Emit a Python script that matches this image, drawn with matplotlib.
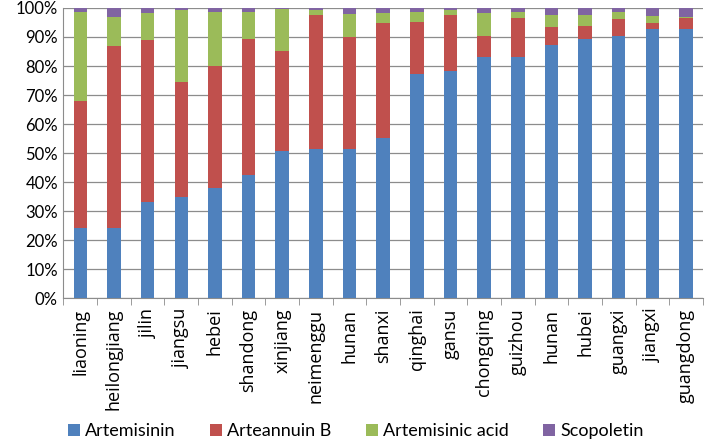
import matplotlib
matplotlib.use("Agg")
import matplotlib.pyplot as plt
from matplotlib.ticker import PercentFormatter
import numpy as np

plt.rcParams['font.family'] = ['Lato', 'DejaVu Sans']

# Provinces and the share (%) of each compound
provinces = ["liaoning", "heilongjiang", "jilin", "jiangsu", "hebei", "shandong",
             "xinjiang", "neimenggu", "hunan", "shanxi", "qinghai", "gansu",
             "chongqing", "guizhou", "hunan", "hubei", "guangxi", "jiangxi",
             "guangdong"]

artemisinin = [24.0, 24.2, 33.0, 35.0, 37.9, 42.3, 50.7, 51.4, 51.4, 55.3,
               77.2, 78.3, 83.0, 83.2, 87.4, 89.3, 90.5, 92.7, 92.9]
arteannuin_b = [44.0, 62.7, 55.9, 39.6, 42.0, 47.1, 34.4, 46.3, 38.7, 39.6,
                18.1, 19.2, 7.2, 13.5, 6.1, 4.6, 5.8, 2.2, 3.7]
artemisinic_acid = [30.7, 10.1, 9.5, 24.7, 18.8, 9.2, 14.4, 1.7, 7.8, 3.3,
                    3.3, 1.8, 8.0, 1.9, 4.0, 3.6, 2.3, 2.2, 0.4]
scopoletin = [1.3, 3.0, 1.6, 0.7, 1.3, 1.4, 0.5, 0.6, 2.1, 1.8,
              1.4, 0.7, 1.8, 1.4, 2.5, 2.5, 1.4, 2.9, 3.0]

series = [("Artemisinin", artemisinin, "#4F81BD"),
          ("Arteannuin B", arteannuin_b, "#C0504D"),
          ("Artemisinic acid", artemisinic_acid, "#9BBB59"),
          ("Scopoletin", scopoletin, "#8064A2")]

fig = plt.figure(figsize=(7.05, 4.43), dpi=100)
ax = fig.add_axes([0.09, 0.327, 0.907, 0.655])

x = np.arange(len(provinces))
bottom = np.zeros(len(provinces))
for name, vals, color in series:
    ax.bar(x, vals, 0.4, bottom=bottom, color=color, label=name, zorder=3)
    bottom += np.array(vals)

ax.set_ylim(0, 100)
ax.set_xlim(-0.5, len(provinces) - 0.5)
ax.set_yticks(np.arange(0, 101, 10))
ax.yaxis.set_major_formatter(PercentFormatter(decimals=0))
ax.grid(axis="y", color="#8c8c8c", linewidth=0.9, zorder=0)

ax.set_xticks(x)
ax.set_xticklabels(provinces, rotation=90, fontsize=13, family=['Open Sans', 'DejaVu Sans'])
ax.set_xticks(np.arange(-0.5, len(provinces), 1), minor=True)
ax.tick_params(axis="x", which="major", length=0, pad=7.5)
ax.tick_params(axis="x", which="minor", length=5, color="#8c8c8c")
ax.tick_params(axis="y", length=0, labelsize=12, pad=4)

for side in ["top", "right"]:
    ax.spines[side].set_visible(False)
ax.spines["left"].set_color("#8c8c8c")
ax.spines["bottom"].set_color("#8c8c8c")

fig.legend(loc="center left", bbox_to_anchor=(68 / 705, 1 - 431 / 443),
           bbox_transform=fig.transFigure, ncol=4, frameon=False, fontsize=13,
           borderpad=0, borderaxespad=0, handlelength=0.67, handleheight=0.67,
           handletextpad=0.28, columnspacing=1.9)

fig.savefig("out.png", dpi=100)
